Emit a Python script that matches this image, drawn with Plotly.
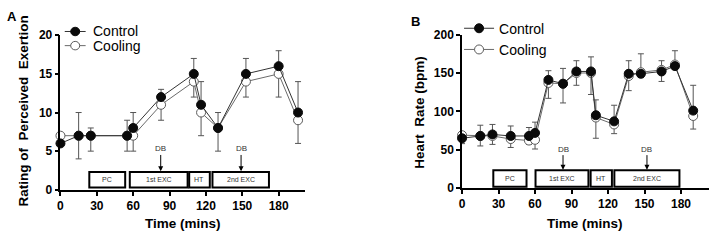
import plotly.graph_objects as go

# ---------------- Panel A: RPE ----------------
rpe_time = [0, 15, 25, 55, 60, 83, 110, 116, 130, 153, 180, 196]
rpe_control = [6, 7, 7, 7, 8, 12, 15, 11, 8, 15, 16, 10]
rpe_cooling = [7, 7, 7, 7, 7, 11, 14, 10, 8, 14, 15, 9]
rpe_err_top = [None, 10, 8, 9, 10, 13, 17, 14, 10, 17, 18, 14]
rpe_err_bot = [None, 4, 5, 5, 5, 9, 12, 7, 5, 12, 12, 6]

# ---------------- Panel B: Heart rate ----------------
hr_time = [0, 15, 25, 40, 55, 60, 71, 83, 94, 106, 110, 125, 137, 147, 164, 175, 190]
hr_control = [65, 68, 70, 68, 68, 72, 141, 136, 152, 152, 95, 87, 149, 149, 152, 159, 101]
hr_cooling = [69, 68, 68, 64, 62, 63, 137, 136, 150, 150, 92, 83, 146, 151, 154, 161, 94]
hr_err_top = [72, 82, 83, 81, 79, 86, 153, 156, 166, 171, 115, 108, 166, 175, 166, 179, 134]
hr_err_bot = [58, 55, 57, 53, 57, 51, 117, 111, 134, 122, 65, 71, 127, 144, 139, 157, 77]

# Protocol phases
rpe_phase_labels = ["PC", "1st EXC", "HT", "2nd EXC"]
rpe_phase_start = [23.8, 57.2, 106.2, 125.4]
rpe_phase_end = [53.4, 104.9, 123.2, 172]
rpe_db_times = [82.7, 149]

hr_phase_labels = ["PC", "1st EXC", "HT", "2nd EXC"]
hr_phase_start = [25.7, 60.4, 105.7, 125.2]
hr_phase_end = [53, 103.9, 123.2, 178.7]
hr_db_times = [83, 152]

series_names = ["Control", "Cooling"]
x_ticks = [0, 30, 60, 90, 120, 150, 180]
rpe_ticks = [0, 5, 10, 15, 20]
hr_ticks = [0, 50, 100, 150, 200]

FONT = "Liberation Sans, Arial, sans-serif"
W, H = 709, 242
CTRL_LINE, COOL_LINE = "#333333", "#6a6a6a"


def px(x):
    return x / W


def py(y):
    return 1 - y / H


def err(center, top, bot):
    up = [None if t is None else t - c for c, t in zip(center, top)]
    dn = [None if b is None else c - b for c, b in zip(center, bot)]
    return up, dn


fig = go.Figure()

panels = [
    dict(xa="x", ya="y", t=rpe_time, c=rpe_control, k=rpe_cooling,
         top=rpe_err_top, bot=rpe_err_bot, showleg=False),
    dict(xa="x2", ya="y2", t=hr_time, c=hr_control, k=hr_cooling,
         top=hr_err_top, bot=hr_err_bot, showleg=True),
]

for p in panels:
    up, dn = err(p["c"], p["top"], p["bot"])
    fig.add_trace(go.Scatter(
        x=p["t"], y=p["c"], xaxis=p["xa"], yaxis=p["ya"], mode="markers",
        marker=dict(size=1, color="rgba(0,0,0,0)"), showlegend=False,
        hoverinfo="skip", cliponaxis=False,
        error_y=dict(type="data", symmetric=False, array=up, arrayminus=dn,
                     color="#555555", thickness=1, width=3)))
    fig.add_trace(go.Scatter(
        x=p["t"], y=p["k"], xaxis=p["xa"], yaxis=p["ya"], mode="lines+markers",
        name=series_names[1], showlegend=p["showleg"], legendgroup="cool", cliponaxis=False,
        line=dict(color=COOL_LINE, width=1),
        marker=dict(symbol="circle", size=9, color="white",
                    line=dict(color="#5a5a5a", width=1))))
    fig.add_trace(go.Scatter(
        x=p["t"], y=p["c"], xaxis=p["xa"], yaxis=p["ya"], mode="lines+markers",
        name=series_names[0], showlegend=p["showleg"], legendgroup="ctrl", cliponaxis=False,
        line=dict(color=CTRL_LINE, width=1),
        marker=dict(symbol="circle", size=9, color="#0a0a0a",
                    line=dict(color="#0a0a0a", width=1))))

shapes = []
annotations = []


def add_phases(xref, yref, labels, starts, ends, y0, y1, dbs, db_text_y, db_head_y, db_tail_y):
    for lab, s, e in zip(labels, starts, ends):
        shapes.append(dict(type="rect", xref=xref, yref=yref, x0=s, x1=e, y0=y0, y1=y1,
                           line=dict(color="black", width=2), fillcolor="white", layer="above"))
        annotations.append(dict(xref=xref, yref=yref, x=(s + e) / 2, y=(y0 + y1) / 2,
                                xanchor="center", yanchor="middle",
                                text=lab, showarrow=False,
                                font=dict(family=FONT, size=7, color="#333333")))
    for d in dbs:
        annotations.append(dict(xref=xref, yref=yref, x=d, y=db_text_y, text="DB",
                                xanchor="center", yanchor="middle",
                                showarrow=False, font=dict(family=FONT, size=8, color="#333333")))
        annotations.append(dict(xref=xref, yref=yref, x=d, y=db_head_y, text="",
                                showarrow=True, axref=xref, ayref=yref, ax=d, ay=db_tail_y,
                                arrowhead=2, arrowsize=1, arrowwidth=1, arrowcolor="black"))


add_phases("x", "y", rpe_phase_labels, rpe_phase_start, rpe_phase_end, 0.28, 2.3,
           rpe_db_times, 5.4, 2.4, 4.7)
add_phases("x2", "y2", hr_phase_labels, hr_phase_start, hr_phase_end, 2, 23.3,
           hr_db_times, 50, 24, 45)


def ann(x, y, text, size, angle=0):
    return dict(xref="paper", yref="paper", x=px(x), y=py(y), text=text, textangle=angle,
                xanchor="center", yanchor="middle", showarrow=False,
                font=dict(family=FONT, size=size, color="black"))


annotations += [
    ann(9, 10, "<b>A</b>", 13),
    ann(414, 15, "<b>B</b>", 13),
    ann(21, 110, "<b>Rating of  Perceived  Exertion</b>", 13.5, -90),
    ann(418, 112, "<b>Heart  Rate (bpm)</b>", 13.5, -90),
    ann(181, 230, "<b>Time (mins)</b>", 13.5),
    ann(584, 230, "<b>Time (mins)</b>", 13.5),
]

# Manual legend for panel A (tight spacing as in the reference)
leg_rows = [(series_names[0], 26, "#0a0a0a", "#0a0a0a", CTRL_LINE),
            (series_names[1], 41, "white", "#5a5a5a", COOL_LINE)]
for name, yy, fill, edge, lc in leg_rows:
    shapes.append(dict(type="line", xref="paper", yref="paper", x0=px(62), x1=px(83),
                       y0=py(yy), y1=py(yy), line=dict(color=lc, width=1)))
    shapes.append(dict(type="circle", xref="paper", yref="paper", x0=px(68), x1=px(77),
                       y0=py(yy + 4.5), y1=py(yy - 4.5), fillcolor=fill, line=dict(color=edge, width=1)))
    annotations.append(dict(xref="paper", yref="paper", x=px(88), y=py(yy), text=name,
                            xanchor="left", yanchor="middle", showarrow=False,
                            font=dict(family=FONT, size=14, color="black")))

axis_common = dict(showgrid=False, zeroline=False, showline=True, linecolor="black", linewidth=1.5,
                   ticks="outside", ticklen=4, tickwidth=1.5, tickcolor="black",
                   tickfont=dict(family=FONT, size=12, color="black"))


def bold(vals):
    return ["<b>%d</b>" % v for v in vals]


fig.update_layout(
    width=W, height=H, margin=dict(l=0, r=0, t=0, b=0),
    paper_bgcolor="white", plot_bgcolor="white", showlegend=True,
    xaxis=dict(domain=[px(57.7), px(303)], range=[0, 201.5], tickvals=x_ticks,
               ticktext=bold(x_ticks), anchor="y", **axis_common),
    yaxis=dict(domain=[py(194), py(30)], range=[0, 20], tickvals=rpe_ticks,
               ticktext=bold(rpe_ticks), anchor="x", **axis_common),
    xaxis2=dict(domain=[px(461), 1.0], range=[0, 203], tickvals=x_ticks,
                ticktext=bold(x_ticks), anchor="y2", **axis_common),
    yaxis2=dict(domain=[py(192.3), py(29.3)], range=[0, 200], tickvals=hr_ticks,
                ticktext=bold(hr_ticks), anchor="x2", **axis_common),
    legend=dict(x=px(458), y=py(6), xanchor="left", yanchor="top", bgcolor="rgba(0,0,0,0)",
                font=dict(family=FONT, size=14, color="black"), traceorder="reversed",
                itemwidth=30, tracegroupgap=4),
    shapes=shapes, annotations=annotations,
)

fig.write_html("out.html", config={"displayModeBar": False},
               post_script="document.body.style.margin='0';document.body.style.overflow='hidden';")
